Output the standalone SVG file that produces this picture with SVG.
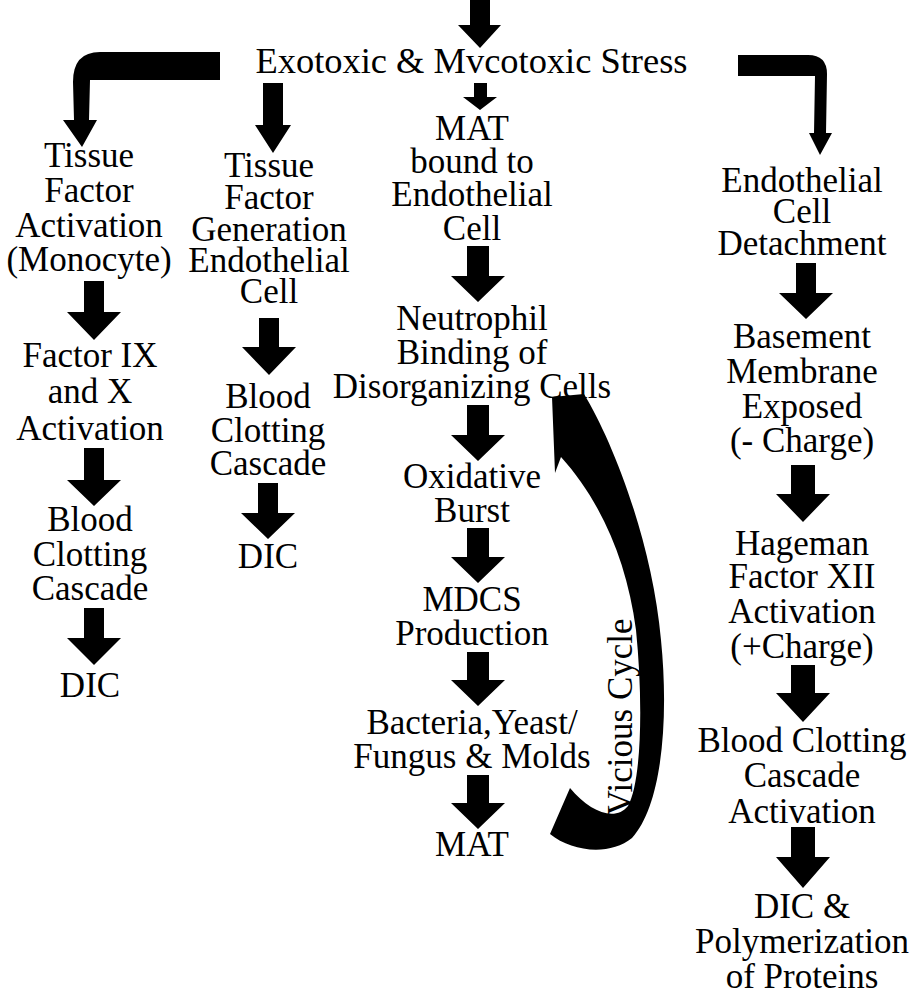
<svg xmlns="http://www.w3.org/2000/svg" width="924" height="996" viewBox="0 0 924 996">
<style>
.t text{font-family:"Liberation Serif","DejaVu Serif","Times New Roman",serif;font-size:35px;fill:#000;text-anchor:middle}
.arr{fill:#000;stroke:none}
</style>
<rect width="924" height="996" fill="#fff"/>
<g id="connectors">
<polygon class="arr" points="470,0 490,0 490,25 501,25 480,48 458,25 470,25"/>
<polygon class="arr" points="474,83 487,83 487,97 497,97 480,110 463,97 474,97"/>
<path class="arr" d="M220,52 L100,52 Q73,52 73,82 L74,120 L63,120 L82,147 L97,120 L89,120 L90,80 L220,80 Z"/>
<polygon class="arr" points="263,83 283,83 283,125 291,125 273,153 255,125 263,125"/>
<path class="arr" d="M738,55 L808,55 Q827,55 827,74 L826,133 L832,133 L820,155 L809,133 L814,133 L815,76 L738,76 Z"/>
<polygon class="arr" points="84,281 104,281 104,312 121,312 94,340 67,312 84,312"/>
<polygon class="arr" points="84,448 104,448 104,480 121,480 94,506 67,480 84,480"/>
<polygon class="arr" points="84,608 104,608 104,638 121,638 94,665 67,638 84,638"/>
<polygon class="arr" points="259,318 279,318 279,347 296,347 269,375 242,347 259,347"/>
<polygon class="arr" points="258,483 278,483 278,513 295,513 268,539 241,513 258,513"/>
<polygon class="arr" points="467,246 489,246 489,276 505,276 478,302 451,276 467,276"/>
<polygon class="arr" points="467,405 489,405 489,435 505,435 478,461 451,435 467,435"/>
<polygon class="arr" points="467,528 489,528 489,557 505,557 478,583 451,557 467,557"/>
<polygon class="arr" points="467,652 489,652 489,680 505,680 478,706 451,680 467,680"/>
<polygon class="arr" points="467,775 489,775 489,803 505,803 478,829 451,803 467,803"/>
<polygon class="arr" points="796,263 816,263 816,293 833,293 806,319 779,293 796,293"/>
<polygon class="arr" points="791,465 815,465 815,494 830,494 803,522 776,494 791,494"/>
<polygon class="arr" points="791,665 815,665 815,693 830,693 803,722 776,693 791,693"/>
<polygon class="arr" points="791,827 815,827 815,857 830,857 803,888 776,857 791,857"/>
<path class="arr" d="M552,397 L584,394 C612,440 652,540 661,640 C669,720 662,805 632,838 C610,856 572,852 550,834 L570,788 C590,812 615,822 628,806 C642,780 643,700 636,630 C627,560 600,500 561,457 L555,473 Z"/>
</g>
<g class="t" font-family="Liberation Serif, DejaVu Serif, serif" font-size="35">
<g id="stress"><text x="471.5" y="73" textLength="432" lengthAdjust="spacingAndGlyphs">Exotoxic &amp; Mvcotoxic Stress</text></g>
<g id="tf-activation"><text x="89" y="167">Tissue</text><text x="89" y="202">Factor</text><text x="89" y="237">Activation</text><text x="89" y="271">(Monocyte)</text></g>
<g id="factor-ix-x"><text x="90" y="367">Factor IX</text><text x="90" y="403">and X</text><text x="90" y="440">Activation</text></g>
<g id="bcc-1"><text x="90" y="531">Blood</text><text x="90" y="566">Clotting</text><text x="90" y="600">Cascade</text></g>
<g id="dic-1"><text x="90" y="697">DIC</text></g>
<g id="tf-generation"><text x="269" y="177">Tissue</text><text x="269" y="209">Factor</text><text x="269" y="241">Generation</text><text x="269" y="272">Endothelial</text><text x="269" y="303">Cell</text></g>
<g id="bcc-2"><text x="268" y="408">Blood</text><text x="268" y="442">Clotting</text><text x="268" y="475">Cascade</text></g>
<g id="dic-2"><text x="268" y="568">DIC</text></g>
<g id="mat-bound"><text x="472" y="140">MAT</text><text x="472" y="173">bound to</text><text x="472" y="206">Endothelial</text><text x="472" y="240">Cell</text></g>
<g id="neutrophil"><text x="472" y="330">Neutrophil</text><text x="472" y="364">Binding of</text><text x="472" y="398">Disorganizing Cells</text></g>
<g id="oxidative"><text x="472" y="488">Oxidative</text><text x="472" y="522">Burst</text></g>
<g id="mdcs"><text x="472" y="611">MDCS</text><text x="472" y="645">Production</text></g>
<g id="bacteria"><text x="472" y="734">Bacteria,Yeast/</text><text x="472" y="768">Fungus &amp; Molds</text></g>
<g id="mat-end"><text x="472" y="856">MAT</text></g>
<g id="vicious-cycle"><text x="632" y="717" transform="rotate(-90 632 717)">Vicious Cycle</text></g>
<g id="ec-detachment"><text x="802" y="192">Endothelial</text><text x="802" y="223">Cell</text><text x="802" y="255">Detachment</text></g>
<g id="basement"><text x="802" y="348">Basement</text><text x="802" y="383">Membrane</text><text x="802" y="418">Exposed</text><text x="802" y="452">(- Charge)</text></g>
<g id="hageman"><text x="802" y="555">Hageman</text><text x="802" y="588">Factor XII</text><text x="802" y="623">Activation</text><text x="802" y="658">(+Charge)</text></g>
<g id="bcc-3"><text x="802" y="752">Blood Clotting</text><text x="802" y="787">Cascade</text><text x="802" y="823">Activation</text></g>
<g id="dic-3"><text x="802" y="918">DIC &amp;</text><text x="802" y="953">Polymerization</text><text x="802" y="988">of Proteins</text></g>
</g>
</svg>
